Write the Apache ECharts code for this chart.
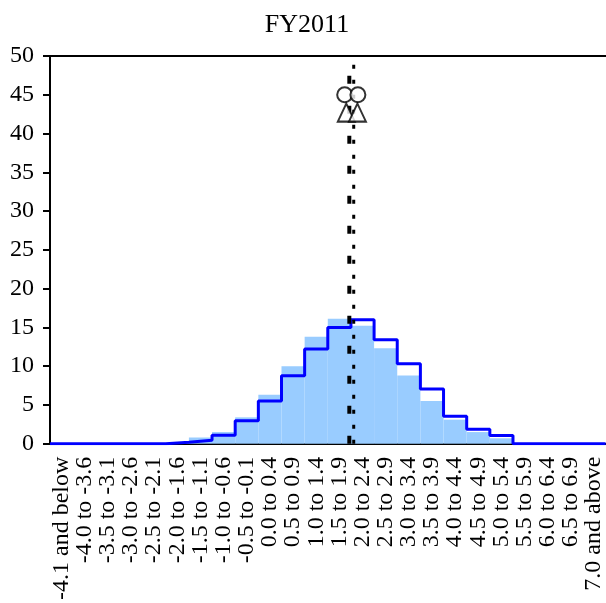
<!DOCTYPE html>
<html>
<head>
<meta charset="utf-8">
<script src="https://cdn.jsdelivr.net/npm/echarts@6/dist/echarts.min.js"></script>
<style>
  html, body { margin: 0; padding: 0; background: #fff; }
  #chart { width: 606px; height: 603px; }
</style>
</head>
<body>
<div id="chart"></div>
<script>
// bins of the distribution
const categories = [
  '-4.1 and below', '-4.0 to -3.6', '-3.5 to -3.1', '-3.0 to -2.6', '-2.5 to -2.1',
  '-2.0 to -1.6', '-1.5 to -1.1', '-1.0 to -0.6', '-0.5 to -0.1', '0.0 to 0.4',
  '0.5 to 0.9', '1.0 to 1.4', '1.5 to 1.9', '2.0 to 2.4', '2.5 to 2.9',
  '3.0 to 3.4', '3.5 to 3.9', '4.0 to 4.4', '4.5 to 4.9', '5.0 to 5.4',
  '5.5 to 5.9', '6.0 to 6.4', '6.5 to 6.9', '7.0 and above'
]
// light blue bars
const barValues = [0, 0, 0, 0, 0, 0.1, 0.8, 1.5, 3.4, 6.3, 10.0, 13.8, 16.1, 15.2, 12.3, 8.8, 5.5, 3.1, 1.5, 0.7, 0, 0, 0, 0]
// blue step line
const stepValues = [0, 0, 0, 0, 0, 0.2, 0.45, 1.1, 2.95, 5.5, 8.75, 12.2, 15.0, 16.0, 13.4, 10.3, 7.05, 3.55, 1.85, 1.05, 0, 0, 0, 0]
// vertical reference lines (position on the bin scale)
const thickLineX = 12.93
const dotLineX = 13.12
// markers: [bin position, value]
const circlePoints = [[12.73, 45], [13.3, 45]]
const trianglePoints = [[12.8, 42.7], [13.28, 42.7]]
const yTicks = { min: 0, max: 50, interval: 5 }

const font = '"Liberation Serif", "Times New Roman", serif'

let stepData = stepValues.map((v, i) => [i, v])
stepData.push([stepValues.length, stepValues[stepValues.length - 1]])

const chart = echarts.init(document.getElementById('chart'))
chart.setOption({
  animation: false,
  title: {
    text: 'FY2011',
    left: 302,
    textAlign: 'center',
    top: 7,
    textStyle: { fontFamily: font, fontSize: 26, fontWeight: 'normal', color: '#000' }
  },
  grid: { left: 50, right: 0, top: 56, bottom: 159, containLabel: false },
  xAxis: [
    {
      type: 'category',
      data: categories,
      boundaryGap: true,
      axisLine: { lineStyle: { color: '#000', width: 2 } },
      axisTick: { inside: true, length: 7, interval: 0, lineStyle: { color: '#000', width: 2 } },
      axisLabel: {
        interval: 0, rotate: 90, margin: 13,
        fontFamily: font, fontSize: 24, color: '#000'
      },
      splitLine: { show: false }
    },
    {
      type: 'value',
      min: 0, max: categories.length,
      position: 'top',
      axisLine: { show: true, onZero: false, lineStyle: { color: '#000', width: 2 } },
      axisTick: { show: false },
      axisLabel: { show: false },
      splitLine: { show: false }
    }
  ],
  yAxis: {
    type: 'value',
    min: yTicks.min, max: yTicks.max, interval: yTicks.interval,
    axisLine: { show: true, lineStyle: { color: '#000', width: 2 } },
    axisTick: { show: true, length: 7, lineStyle: { color: '#000', width: 2 } },
    axisLabel: { margin: 16, fontFamily: font, fontSize: 24, color: '#000' },
    splitLine: { show: false }
  },
  series: [
    {
      type: 'bar',
      data: barValues,
      barCategoryGap: '0%',
      itemStyle: { color: '#99CCFF' },
      z: 1
    },
    {
      type: 'line',
      xAxisIndex: 1,
      data: stepData,
      step: 'end',
      symbol: 'none',
      lineStyle: { color: '#0000FF', width: 3 },
      z: 3
    },
    {
      type: 'line',
      xAxisIndex: 1,
      data: [[thickLineX, 0], [thickLineX, 50]],
      symbol: 'none',
      lineStyle: { color: '#000', width: 4, type: [8, 22], cap: 'butt' },
      z: 4
    },
    {
      type: 'line',
      xAxisIndex: 1,
      data: [[dotLineX, 0], [dotLineX, 50]],
      symbol: 'none',
      lineStyle: { color: '#000', width: 3, type: [4, 11], cap: 'butt' },
      z: 4
    },
    {
      type: 'scatter',
      xAxisIndex: 1,
      data: circlePoints,
      symbol: 'circle',
      symbolSize: 15,
      itemStyle: { color: '#fff', borderColor: '#000', borderWidth: 2 },
      z: 5
    },
    {
      type: 'scatter',
      xAxisIndex: 1,
      data: trianglePoints,
      symbol: 'triangle',
      symbolSize: [17, 18],
      itemStyle: { color: '#fff', borderColor: '#000', borderWidth: 2 },
      z: 5
    }
  ]
})
</script>
</body>
</html>
